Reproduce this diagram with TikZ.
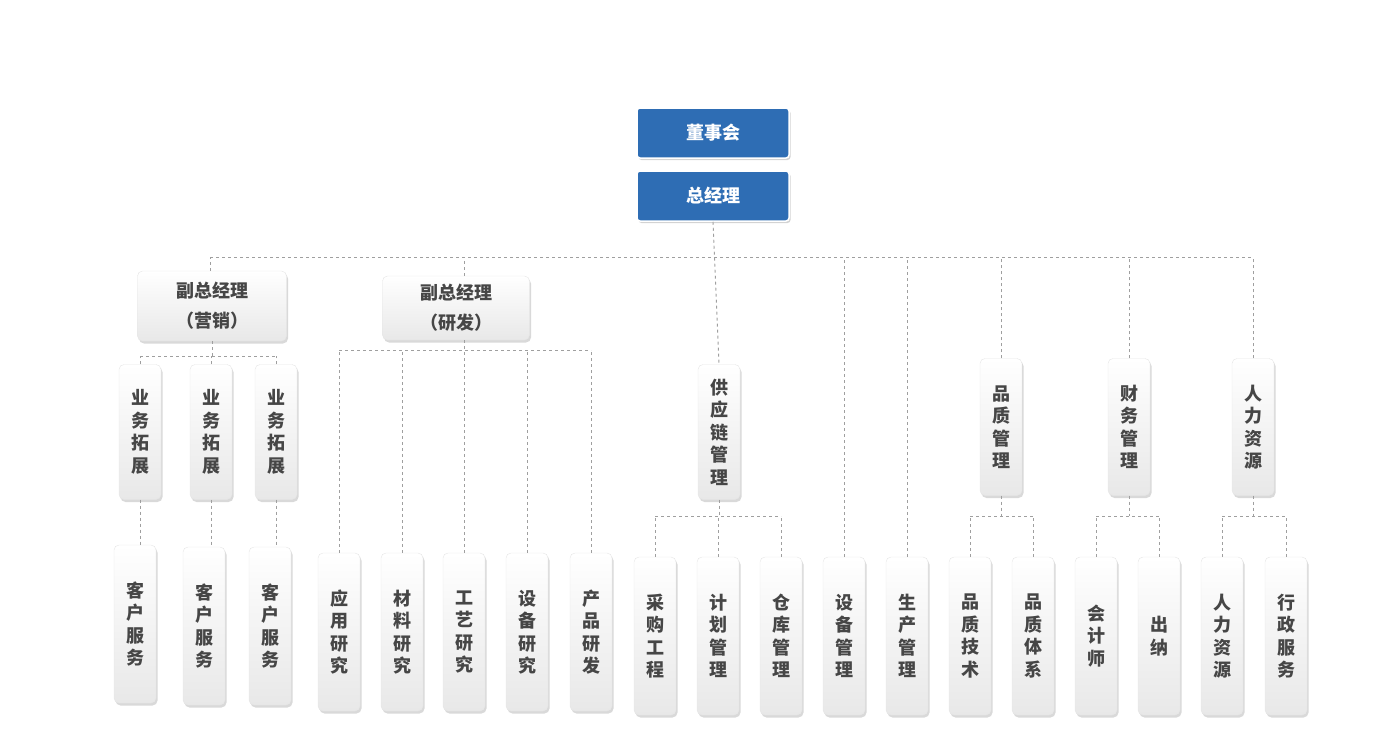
\documentclass[tikz,border=0pt]{standalone}
\usepackage{fontspec}
\setmainfont{Noto Sans CJK SC}
\usetikzlibrary{shadows}
\begin{document}
\begin{tikzpicture}[x=1pt,y=-1pt,
 blue box/.style={draw=white,line width=1.5pt,rounded corners=3pt,fill={rgb,255:red,46;green,109;blue,180},text=white,font=\fontsize{18}{22}\selectfont\bfseries,minimum width=152pt,minimum height=50pt,drop shadow={opacity=0.35,shadow xshift=1.5pt,shadow yshift=-2pt}},
 gbox/.style={rounded corners=5pt,top color=white,bottom color=gray!18,draw=gray!20,text={rgb,255:red,70;green,70;blue,70},font=\fontsize{18}{22.5}\selectfont\bfseries,align=center,inner sep=0pt,drop shadow={opacity=0.3,shadow xshift=1.5pt,shadow yshift=-2.5pt}},
 vbox/.style={gbox,minimum width=42pt},
 dl/.style={draw=gray!75,dashed,line width=0.9pt}]
\useasboundingbox (0,0) rectangle (1390,732);
% top
\node[blue box] (board) at (713,133) {董事会};
\node[blue box] (gm) at (713,196) {总经理};
\coordinate (bus) at (0,257);
% VPs
\node[gbox,minimum width=149pt,minimum height=70pt,font=\fontsize{18}{30}\selectfont\bfseries] (vp1) at (212,306) {副总经理\\（营销）};
\node[gbox,minimum width=147pt,minimum height=64pt,font=\fontsize{18}{30}\selectfont\bfseries] (vp2) at (456,308) {副总经理\\（研发）};
% second level
\node[vbox,minimum height=135pt] (b1) at (140,432) {业\\务\\拓\\展};
\node[vbox,minimum height=135pt] (b2) at (211,432) {业\\务\\拓\\展};
\node[vbox,minimum height=135pt] (b3) at (276,432) {业\\务\\拓\\展};
\node[vbox,minimum height=135pt] (sc) at (719,432) {供\\应\\链\\管\\理};
\node[vbox,minimum height=137pt] (qm) at (1001,427) {品\\质\\管\\理};
\node[vbox,minimum height=137pt] (fm) at (1129,427) {财\\务\\管\\理};
\node[vbox,minimum height=137pt] (hr) at (1253,427) {人\\力\\资\\源};
% bottom
\node[vbox,minimum height=158pt] (c1) at (135,624) {客\\户\\服\\务};
\node[vbox,minimum height=158pt] (c2) at (204,626) {客\\户\\服\\务};
\node[vbox,minimum height=158pt] (c3) at (270,626) {客\\户\\服\\务};
\node[vbox,minimum height=158pt] (r1) at (339,632) {应\\用\\研\\究};
\node[vbox,minimum height=158pt] (r2) at (402,632) {材\\料\\研\\究};
\node[vbox,minimum height=158pt] (r3) at (464,632) {工\\艺\\研\\究};
\node[vbox,minimum height=158pt] (r4) at (527,632) {设\\备\\研\\究};
\node[vbox,minimum height=158pt] (r5) at (591,632) {产\\品\\研\\发};
\node[vbox,minimum height=158pt] (s1) at (655,636) {采\\购\\工\\程};
\node[vbox,minimum height=158pt] (s2) at (718,636) {计\\划\\管\\理};
\node[vbox,minimum height=158pt] (s3) at (781,636) {仓\\库\\管\\理};
\node[vbox,minimum height=158pt] (eq) at (844,636) {设\\备\\管\\理};
\node[vbox,minimum height=158pt] (pr) at (907,636) {生\\产\\管\\理};
\node[vbox,minimum height=158pt] (q1) at (970,636) {品\\质\\技\\术};
\node[vbox,minimum height=158pt] (q2) at (1033,636) {品\\质\\体\\系};
\node[vbox,minimum height=158pt] (f1) at (1096,636) {会\\计\\师};
\node[vbox,minimum height=158pt] (f2) at (1159,636) {出\\纳};
\node[vbox,minimum height=158pt] (h1) at (1222,636) {人\\力\\资\\源};
\node[vbox,minimum height=158pt] (h2) at (1286,636) {行\\政\\服\\务};
% connectors
\begin{scope}[on background layer/.style={}]
\draw[dl] (gm.south) -- (sc.north);
\draw[dl] (210,257) -- (1252,257);
\draw[dl] (vp1.north -| 210,0) -- (210,257);
\draw[dl] (vp2.north -| 464,0) -- (464,257);
\draw[dl] (eq.north) -- (eq.north |- bus);
\draw[dl] (pr.north) -- (pr.north |- bus);
\draw[dl] (qm.north) -- (qm.north |- bus);
\draw[dl] (fm.north) -- (fm.north |- bus);
\draw[dl] (hr.north) -- (hr.north |- bus);
% marketing
\coordinate (m) at (0,356);
\draw[dl] (vp1.south) -- (vp1.south |- m);
\draw[dl] (b1.north |- m) -- (b3.north |- m);
\foreach \n in {b1,b2,b3} \draw[dl] (\n.north) -- (\n.north |- m);
\draw[dl] (b1.south) -- (b1.south |- c1.north);
\draw[dl] (b2.south) -- (b2.south |- c2.north);
\draw[dl] (b3.south) -- (b3.south |- c3.north);
% R&D
\coordinate (rd) at (0,350);
\draw[dl] (vp2.south -| 464,0) -- (464,350);
\draw[dl] (r1.north |- rd) -- (r5.north |- rd);
\foreach \n in {r1,r2,r3,r4,r5} \draw[dl] (\n.north) -- (\n.north |- rd);
% supply
\coordinate (sb) at (0,516);
\draw[dl] (sc.south) -- (sc.south |- sb);
\draw[dl] (s1.north |- sb) -- (s3.north |- sb);
\foreach \n in {s1,s2,s3} \draw[dl] (\n.north) -- (\n.north |- sb);
% quality
\draw[dl] (qm.south) -- (qm.south |- sb);
\draw[dl] (q1.north |- sb) -- (q2.north |- sb);
\foreach \n in {q1,q2} \draw[dl] (\n.north) -- (\n.north |- sb);
\draw[dl] (fm.south) -- (fm.south |- sb);
\draw[dl] (f1.north |- sb) -- (f2.north |- sb);
\foreach \n in {f1,f2} \draw[dl] (\n.north) -- (\n.north |- sb);
\draw[dl] (hr.south) -- (hr.south |- sb);
\draw[dl] (h1.north |- sb) -- (h2.north |- sb);
\foreach \n in {h1,h2} \draw[dl] (\n.north) -- (\n.north |- sb);
\end{scope}
\end{tikzpicture}
\end{document}
